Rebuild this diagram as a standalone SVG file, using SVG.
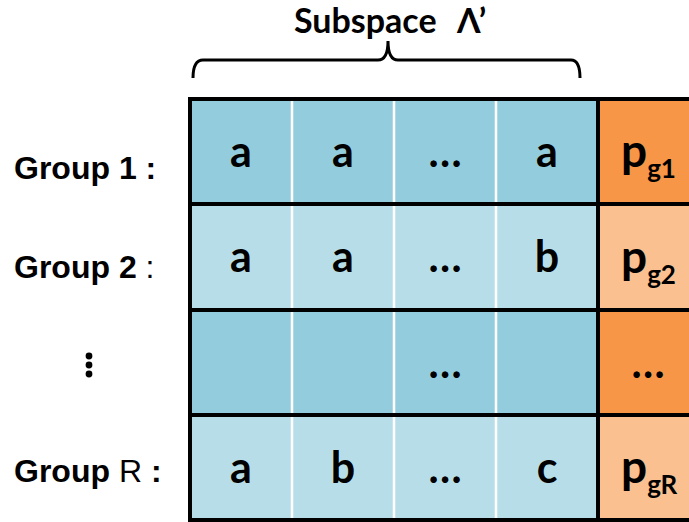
<svg xmlns="http://www.w3.org/2000/svg" width="689" height="522" viewBox="0 0 689 522">
<style>
.dk{fill:#93CDDD}
.lt{fill:#B7DEE8}
.or{fill:#F79646}
.lo{fill:#FAC090}
.cell{font-family:Lato,"Open Sans",sans-serif;font-weight:bold;font-size:43px;fill:#000;text-anchor:middle}
.p{font-family:Lato,"Open Sans",sans-serif;font-weight:bold;font-size:46px;fill:#000}
.sub{font-size:26px}
.grp{font-family:"Liberation Sans",Arial,sans-serif;font-weight:bold;font-size:32px;fill:#000}
.title{font-family:Lato,"Open Sans",sans-serif;font-weight:bold;font-size:34px;fill:#000}
.wl{stroke:#fff;stroke-width:2.5}
.bl{stroke:#000;stroke-width:4}
</style>
<rect width="689" height="522" fill="#fff"/>
<g id="title">
<text class="title" x="294" y="33">Subspace</text>
<text class="title" x="457" y="33">Λ’</text>
</g>
<g id="brace">
<path d="M193,78 Q193,60 203,60 L378,60 Q388,60 388,41 Q388,60 398,60 L571,60 Q580,60 580,78" fill="none" stroke="#000" stroke-width="3"/>
</g>
<g id="labels">
<text class="grp" x="14" y="179">Group 1 :</text>
<text class="grp" x="14" y="278">Group 2<tspan font-weight="normal"> :</tspan></text>
<g id="vdots" fill="#000">
<circle cx="89" cy="356" r="3.4"/>
<circle cx="89" cy="365" r="3.4"/>
<circle cx="89" cy="374" r="3.4"/>
</g>
<text class="grp" x="14" y="482">Group <tspan font-weight="normal">R</tspan> :</text>
</g>
<g id="row1">
<rect class="dk" x="190" y="99" width="408" height="105"/>
<rect class="or" x="598" y="99" width="91" height="105"/>
<text class="cell" x="241" y="167">a</text>
<text class="cell" x="343" y="167">a</text>
<text class="cell" x="445" y="167">…</text>
<text class="cell" x="547" y="167">a</text>
<text class="p" x="621" y="167">p<tspan class="sub" dy="11">g1</tspan></text>
</g>
<g id="row2">
<rect class="lt" x="190" y="204" width="408" height="106"/>
<rect class="lo" x="598" y="204" width="91" height="106"/>
<text class="cell" x="241" y="272">a</text>
<text class="cell" x="343" y="272">a</text>
<text class="cell" x="445" y="272">…</text>
<text class="cell" x="547" y="272">b</text>
<text class="p" x="621" y="273">p<tspan class="sub" dy="11">g2</tspan></text>
</g>
<g id="row3">
<rect class="dk" x="190" y="310" width="408" height="105"/>
<rect class="or" x="598" y="310" width="91" height="105"/>
<text class="cell" x="445" y="378">…</text>
<text class="cell" x="648" y="378">…</text>
</g>
<g id="row4">
<rect class="lt" x="190" y="415" width="408" height="105"/>
<rect class="lo" x="598" y="415" width="91" height="105"/>
<text class="cell" x="241" y="483">a</text>
<text class="cell" x="343" y="483">b</text>
<text class="cell" x="445" y="483">…</text>
<text class="cell" x="547" y="483">c</text>
<text class="p" x="621" y="483">p<tspan class="sub" dy="11">gR</tspan></text>
</g>
<g id="grid">
<line class="wl" x1="292" y1="99" x2="292" y2="520"/>
<line class="wl" x1="394" y1="99" x2="394" y2="520"/>
<line class="wl" x1="496" y1="99" x2="496" y2="520"/>
<line class="bl" x1="598" y1="99" x2="598" y2="520"/>
<line class="bl" x1="188" y1="99" x2="689" y2="99"/>
<line class="bl" x1="190" y1="204" x2="689" y2="204"/>
<line class="bl" x1="190" y1="310" x2="689" y2="310"/>
<line class="bl" x1="190" y1="415" x2="689" y2="415"/>
<line class="bl" x1="188" y1="520" x2="689" y2="520"/>
<line class="bl" x1="190" y1="97" x2="190" y2="522"/>
</g>
</svg>
